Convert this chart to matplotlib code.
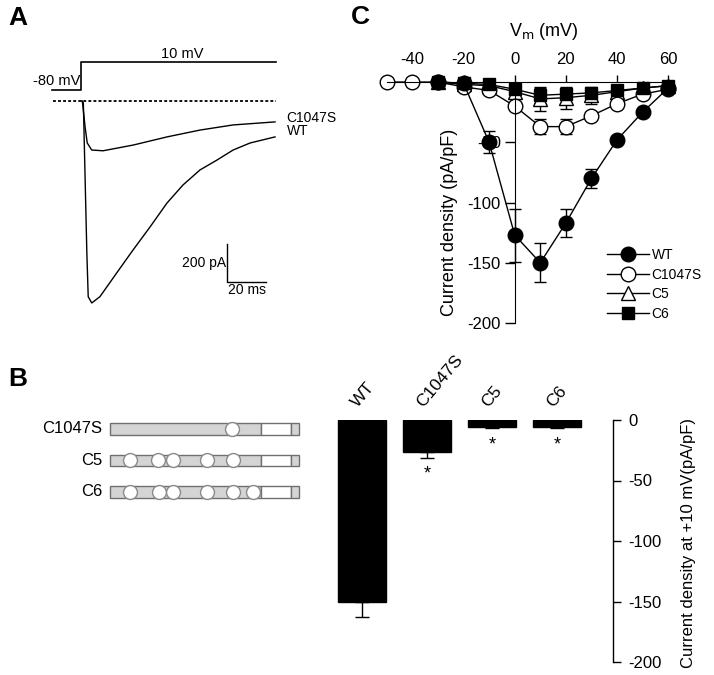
import numpy as np
import matplotlib
matplotlib.use("Agg")
import matplotlib.pyplot as plt

plt.rcParams['font.family'] = ['Liberation Sans', 'DejaVu Sans']
plt.rcParams['axes.unicode_minus'] = False

W, H = 714, 675

# ---- panel A: example currents at +10 mV (ms, pA) ----
t_wt = [0.5, 1.2, 2.0, 3.0, 3.7, 5.5, 9.7, 18.3, 26.7, 35.4, 44.1, 52.3, 61.0, 69.7, 78.0, 86.7, 99.5]
i_wt = [0, -10, -360, -800, -1030, -1063, -1030, -905, -784, -663, -537, -442, -363, -311, -258, -221, -189]
t_c1047s = [0.5, 0.8, 2.1, 3.2, 5.5, 11.3, 26.7, 44.1, 61.0, 78.0, 99.5]
i_c1047s = [0, -10, -137, -221, -258, -262, -232, -189, -153, -126, -110]
step_t = [-15, 0, 0, 100]
step_v = [-80, -80, 10, 10]

# ---- panel B: constructs and bar data ----
constructs = ["C1047S", "C5", "C6"]
cys_sites = [[64.5], [10.6, 25.4, 33.3, 51.3, 65.0], [10.6, 26.0, 33.3, 51.3, 65.0, 75.7]]
bar_groups = ["WT", "C1047S", "C5", "C6"]
bar_vals = [-150, -26.5, -6, -6]
bar_err = [13, 4.5, 1, 1]
bar_sig = [False, True, True, True]

# ---- panel C: I-V relationship ----
vm = [-50, -40, -30, -20, -10, 0, 10, 20, 30, 40, 50, 60]
nan = np.nan
iv_wt = [nan, nan, 0, -1, -50, -127, -150, -117, -80, -48, -25, -5]
err_wt = [nan, nan, 0, 1, 9, 22, 16, 12, 8, 3, 2, 2]
iv_c1047s = [0, 0, 0, -4, -7, -20, -37, -37, -28, -18, -10, -6]
err_c1047s = [0, 0, 0, 1, 2, 3, 6, 6, 3, 2, 2, 1]
iv_c5 = [nan, nan, 0, -2, -3, -8, -14, -13, -11, -8, -5, -3]
err_c5 = [nan, nan, 0, 1, 1, 2, 10, 9, 7, 4, 2, 1]
iv_c6 = [nan, nan, 0, -1, -2, -6, -11, -10, -9, -7, -5, -3]
err_c6 = [nan, nan, 0, 1, 1, 2, 6, 5, 4, 3, 2, 1]


def px_axes(fig, x0, y0, x1, y1):
    return fig.add_axes([x0 / W, 1 - y1 / H, (x1 - x0) / W, (y1 - y0) / H])


fig = plt.figure(figsize=(W / 100, H / 100), dpi=100)

# ================= panel A =================
box = (30, 40, 320, 315)
ax_a = px_axes(fig, *box)
# pixel calibration of the trace: step at x=81, 0 pA at y=101
tx0, ms_px, iy0, pa_px = 81, 1.95, 101, 0.19
ax_a.set_xlim((box[0] - tx0) / ms_px, (box[2] - tx0) / ms_px)
ax_a.set_ylim((iy0 - box[3]) / pa_px, (iy0 - box[1]) / pa_px)
ax_a.axis("off")
ax_a.plot(t_wt, i_wt, color="black", lw=1.0)
ax_a.plot(t_c1047s, i_c1047s, color="black", lw=1.0)
ax_a.plot([-14.5, 100], [0, 0], color="black", lw=1.3, ls=(0, (1.6, 1.2)))
ax_a.text(105.5, -89, "C1047S", fontsize=10, va="center", ha="left")
ax_a.text(105.5, -158, "WT", fontsize=10, va="center", ha="left")
# scale bar
ax_a.plot([75, 75, 95], [-750, -950, -950], color="black", lw=1.0)
ax_a.text(74.5, -850, "200 pA", fontsize=10, ha="right", va="center")
ax_a.text(85, -995, "20 ms", fontsize=10, ha="center", va="center")

ax_v = px_axes(fig, *box)
vy0, mv_px = 90, 28 / 90
ax_v.set_xlim(ax_a.get_xlim())
ax_v.set_ylim(-80 - (box[3] - vy0) / mv_px, -80 + (vy0 - box[1]) / mv_px)
ax_v.axis("off")
ax_v.plot(step_t, step_v, color="black", lw=1.2)
ax_v.text(-0.5, -51, "-80 mV", fontsize=10.5, ha="right", va="center")
ax_v.text(52, 35.7, "10 mV", fontsize=10.5, ha="center", va="center")

# ================= panel B schematic =================
ax_s = px_axes(fig, 105, 410, 305, 505)
ax_s.set_xlim(-2.65, 103.2)
ax_s.set_ylim(2.413, -0.603)
ax_s.axis("off")
segments = [(0, 80, "#d4d4d4"), (80, 96, "white"), (96, 100, "#d4d4d4")]
for row, name in enumerate(constructs):
    for x0, x1, col in segments:
        ax_s.add_patch(plt.Rectangle((x0, row - 0.18), x1 - x0, 0.36,
                                     facecolor=col, edgecolor="#707070", lw=1.0))
    ax_s.plot(cys_sites[row], [row] * len(cys_sites[row]), "o", ms=10,
              mfc="white", mec="#8a8a8a", mew=1.0)
    ax_s.text(-4, row, name, fontsize=12, ha="right", va="center")

# ================= panel B bars =================
ax_b = px_axes(fig, 330, 420, 613, 662)
x = np.arange(len(bar_groups))
ax_b.bar(x, bar_vals, width=0.74, color="black", edgecolor="black")
ax_b.errorbar(x, bar_vals, yerr=[bar_err, [0] * len(bar_err)], fmt="none",
              ecolor="black", elinewidth=1.0, capsize=5, capthick=1.0)
ax_b.set_xlim(-0.49, 3.86)
ax_b.set_ylim(-200, 0)
for s in ["top", "left", "bottom"]:
    ax_b.spines[s].set_visible(False)
ax_b.spines["right"].set_linewidth(1.0)
ax_b.set_xticks([])
ax_b.yaxis.tick_right()
ax_b.set_yticks([0, -50, -100, -150, -200])
ax_b.tick_params(axis="y", labelsize=12, length=6, width=1.0, pad=5)
for i, name in enumerate(bar_groups):
    ax_b.text(i - 0.03, 8, name, fontsize=12.5, rotation=50, rotation_mode="anchor",
              ha="left", va="bottom", clip_on=False)
    if bar_sig[i]:
        ax_b.text(i, bar_vals[i] - bar_err[i] - 7, "*", fontsize=13,
                  ha="center", va="top")

# ================= panel C =================
ax_c = px_axes(fig, 374, 72.4, 681, 323)
ax_c.set_xlim(-55, 65)
ax_c.set_ylim(-200, 8)
series = {
    "WT": (iv_wt, err_wt, "o", "black", 10.5),
    "C1047S": (iv_c1047s, err_c1047s, "o", "white", 10.5),
    "C5": (iv_c5, err_c5, "^", "white", 10),
    "C6": (iv_c6, err_c6, "s", "black", 9),
}
for name, (vals, errs, mk, fc, ms) in series.items():
    ax_c.errorbar(vm, vals, yerr=errs, fmt="none", ecolor="black",
                  elinewidth=1.0, capsize=4, capthick=1.0, clip_on=False)
handles = {}
# drawing order so the filled squares and WT circles sit on top
for name in ["C5", "C1047S", "C6", "WT"]:
    vals, errs, mk, fc, ms = series[name]
    h, = ax_c.plot(vm, vals, color="black", lw=1.0, marker=mk, ms=ms,
                   mfc=fc, mec="black", mew=1.0, clip_on=False, label=name)
    handles[name] = h

ax_c.spines["left"].set_position(("data", 0))
ax_c.spines["top"].set_position(("data", 0))
ax_c.spines["right"].set_visible(False)
ax_c.spines["bottom"].set_visible(False)
ax_c.spines["left"].set_bounds(-200, 0)
ax_c.spines["top"].set_bounds(-50, 60)
ax_c.xaxis.tick_top()
ax_c.set_xticks([-40, -20, 0, 20, 40, 60])
ax_c.set_yticks([-200, -150, -100, -50])
ax_c.tick_params(axis="x", labelsize=12, length=5, width=1.0, pad=6)
ax_c.tick_params(axis="y", labelsize=12, length=7, width=1.0, pad=3)
fig.text(544 / W, 1 - 32 / H, r"V$_{\mathrm{m}}$ (mV)", fontsize=13,
         ha="center", va="center")
fig.text(450 / W, 1 - 222 / H, "Current density (pA/pF)", fontsize=13,
         rotation=90, ha="center", va="center")
fig.legend(handles=[handles[n] for n in series], loc="upper left",
           bbox_to_anchor=(607 / W, 1 - 248 / H), frameon=False,
           fontsize=10, handlelength=3.0, handletextpad=0.2,
           labelspacing=0.4, borderpad=0, borderaxespad=0, numpoints=1)

fig.text(688 / W, 1 - 543 / H, "Current density at +10 mV(pA/pF)",
         fontsize=12, rotation=90, ha="center", va="center")

# panel letters
for letter, px, py in [("A", 8, 18), ("B", 8, 379), ("C", 351, 17)]:
    fig.text(px / W, 1 - py / H, letter, fontsize=19, fontweight="bold",
             ha="left", va="center")

fig.savefig("out.png", dpi=100)
